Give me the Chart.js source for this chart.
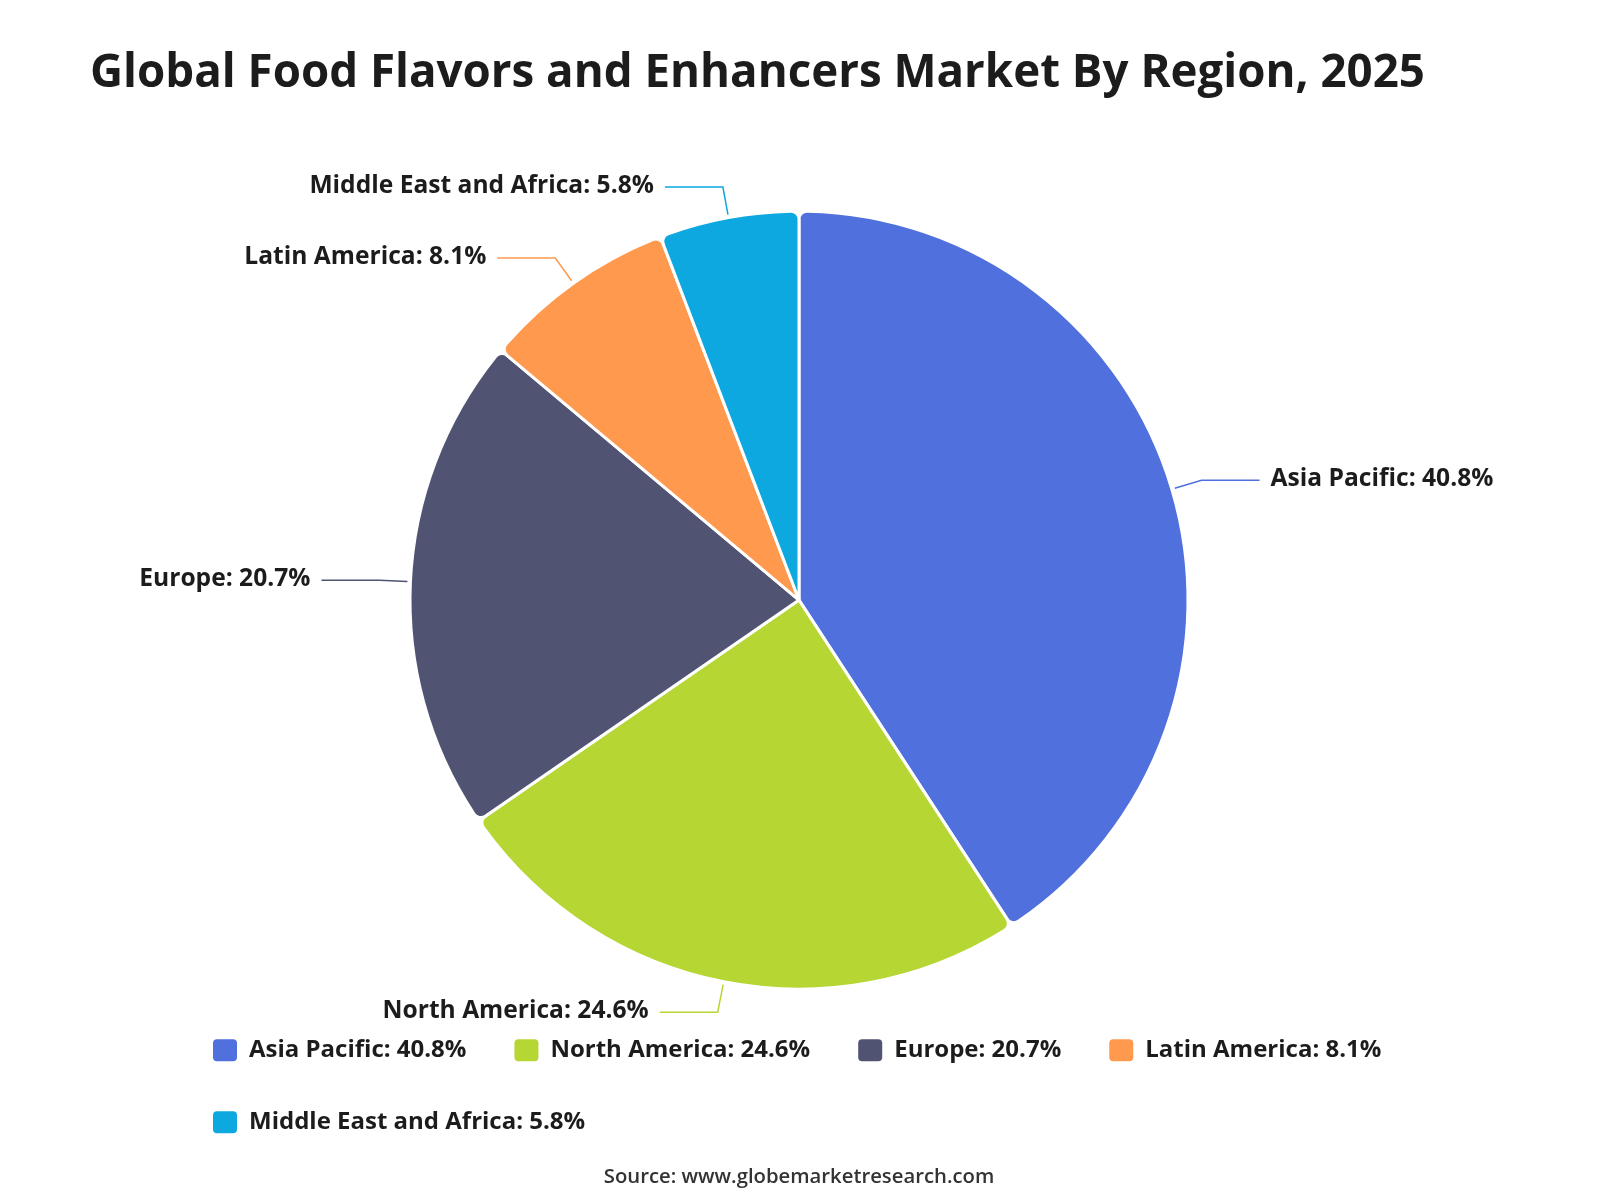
<!DOCTYPE html>
<html>
<head>
<meta charset="utf-8">
<title>Global Food Flavors and Enhancers Market By Region, 2025</title>
<script src="https://cdn.jsdelivr.net/npm/chart.js@4.4.1/dist/chart.umd.min.js"></script>
<style>
    html, body { margin: 0; padding: 0; background: #ffffff; }
    #wrap { width: 1600px; height: 1200px; }
</style>
</head>
<body>
<div id="wrap"><canvas id="regionChart" width="1600" height="1200"></canvas></div>
<script>
// chart data
const regions = ['Asia Pacific', 'North America', 'Europe', 'Latin America', 'Middle East and Africa'];
const shares = [40.8, 24.6, 20.7, 8.1, 5.8];
const sliceColors = ['#5070dd', '#b6d634', '#505372', '#ff994d', '#0ca8df'];
const chartTitle = 'Global Food Flavors and Enhancers Market By Region, 2025';
const sourceText = 'Source: www.globemarketresearch.com';

const FONT = "'Open Sans', 'Noto Sans', sans-serif";
const TEXT_COLOR = '#1c1c1c';

function labelText(i) {
    return regions[i] + ': ' + shares[i].toFixed(1) + '%';
}

// title drawn left aligned, stretched to the width used in the original
const leftTitle = {
    id: 'leftTitle',
    afterDraw(chart) {
        const ctx = chart.ctx;
        ctx.save();
        ctx.font = 'bold 44px ' + FONT;
        const size = 44 * 1335 / ctx.measureText(chartTitle).width;
        ctx.font = 'bold ' + size.toFixed(2) + 'px ' + FONT;
        ctx.fillStyle = TEXT_COLOR;
        ctx.textAlign = 'left';
        ctx.textBaseline = 'alphabetic';
        ctx.fillText(chartTitle, 90, 87);
        ctx.restore();
    }
};

// outside labels with elbow leader lines
const leaderLabels = {
    id: 'leaderLabels',
    afterDatasetsDraw(chart) {
        const ctx = chart.ctx;
        const meta = chart.getDatasetMeta(0);
        ctx.save();
        ctx.font = 'bold 24.6px ' + FONT;
        ctx.textBaseline = 'middle';
        meta.data.forEach(function (arc, i) {
            const p = arc.getProps(['x', 'y', 'startAngle', 'endAngle', 'outerRadius'], true);
            const mid = (p.startAngle + p.endAngle) / 2;
            const cos = Math.cos(mid);
            const sin = Math.sin(mid);
            const x0 = p.x + cos * (p.outerRadius + 3);
            const y0 = p.y + sin * (p.outerRadius + 3);
            const x1 = p.x + cos * (p.outerRadius + 31);
            const y1 = p.y + sin * (p.outerRadius + 31);
            const right = cos >= 0;
            const x2 = x1 + (right ? 58 : -58);

            ctx.strokeStyle = sliceColors[i];
            ctx.lineWidth = 1.5;
            ctx.beginPath();
            ctx.moveTo(x0, y0);
            ctx.lineTo(x1, y1);
            ctx.lineTo(x2, y1);
            ctx.stroke();

            ctx.fillStyle = TEXT_COLOR;
            ctx.textAlign = right ? 'left' : 'right';
            ctx.fillText(labelText(i), x2 + (right ? 11 : -11), y1 - 1);
        });
        ctx.restore();
    }
};

const ctx = document.getElementById('regionChart').getContext('2d');
const regionChart = new Chart(ctx, {
    type: 'pie',
    data: {
        labels: regions,
        datasets: [{
            data: shares,
            backgroundColor: sliceColors,
            borderColor: '#ffffff',
            borderWidth: 3,
            borderRadius: 8,
            radius: 389,
            hoverOffset: 0
        }]
    },
    options: {
        responsive: false,
        animation: false,
        layout: {
            padding: { top: 210, left: 165, right: 167, bottom: 10.5 }
        },
        plugins: {
            title: { display: false },
            tooltip: { enabled: false },
            legend: {
                position: 'bottom',
                align: 'start',
                labels: {
                    boxWidth: 24,
                    boxHeight: 22,
                    padding: 48,
                    useBorderRadius: true,
                    borderRadius: 4,
                    color: TEXT_COLOR,
                    font: { family: FONT, size: 24, weight: 'bold' },
                    generateLabels(chart) {
                        const items = Chart.overrides.pie.plugins.legend.labels.generateLabels(chart);
                        return items.map(function (item, i) {
                            return Object.assign(item, {
                                text: labelText(i),
                                lineWidth: 0,
                                strokeStyle: sliceColors[i],
                                borderRadius: 4
                            });
                        });
                    }
                }
            },
            subtitle: {
                display: true,
                position: 'bottom',
                text: sourceText,
                color: '#333333',
                font: { family: FONT, size: 20.3, weight: '600' },
                padding: { top: 21, bottom: 0 }
            }
        }
    },
    plugins: [leftTitle, leaderLabels]
});
</script>
</body>
</html>
